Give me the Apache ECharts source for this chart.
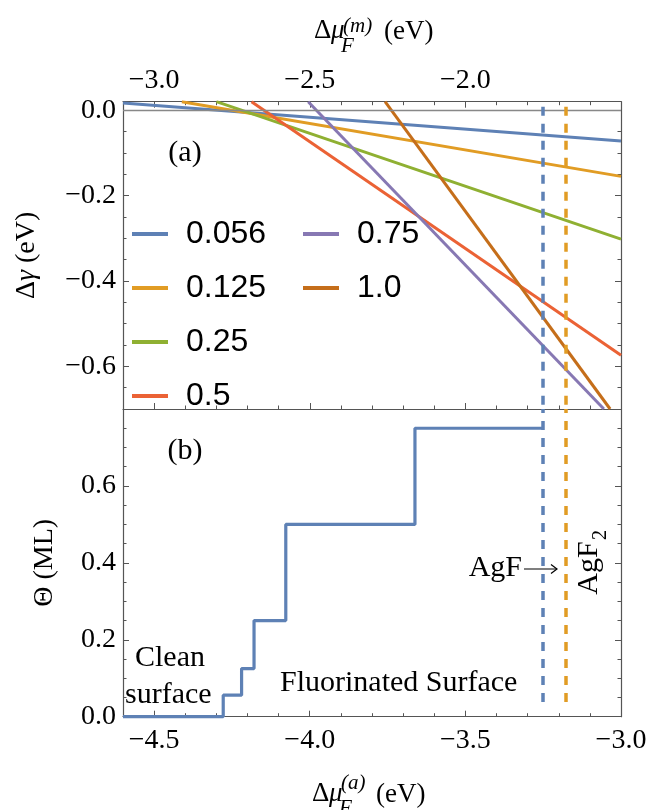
<!DOCTYPE html>
<html><head><meta charset="utf-8">
<script src="https://cdn.jsdelivr.net/npm/echarts@6/dist/echarts.min.js"></script>
<style>html,body{margin:0;padding:0;background:#fff}#c{width:666px;height:810px}</style>
</head><body><div id="c"></div>
<script>
// ---------- data ----------
const coverages = ['0.056', '0.125', '0.25', '0.5', '0.75', '1.0'];
const lineColors = ['#5E81B5', '#E19C24', '#8FB032', '#EB6235', '#8778B3', '#C56E1A'];
// panel (a): each straight line read where it enters / leaves the frame (x = Δμ_F^(m), y = Δγ)
const muM_056 = [-3.100, -1.500]; const dGamma_056 = [0.017, -0.072];
const muM_125 = [-2.911, -1.500]; const dGamma_125 = [0.020, -0.155];
const muM_25  = [-2.800, -1.500]; const dGamma_25  = [0.020, -0.302];
const muM_5   = [-2.687, -1.500]; const dGamma_5   = [0.020, -0.574];
const muM_75  = [-2.505, -1.555]; const dGamma_75  = [0.020, -0.700];
const muM_10  = [-2.258, -1.535]; const dGamma_10  = [0.020, -0.700];
// panel (b): coverage step function (x = Δμ_F^(a), y = Θ)
const stepMuA   = [-4.600, -4.278, -4.219, -4.179, -4.077, -3.662, -3.250];
const stepTheta = [0.000, 0.056, 0.125, 0.250, 0.500, 0.750, 0.750];
// vertical reference lines (AgF, AgF2)
const agfMuM = -1.752, agf2MuM = -1.677;
const agfMuA = -3.252, agf2MuA = -3.177;
// ticks
const xTopLabels = [-3.0, -2.5, -2.0];
const xTopMinor = [-3.1, -2.9, -2.8, -2.7, -2.6, -2.4, -2.3, -2.2, -2.1, -1.9, -1.8, -1.7, -1.6];
const xBotLabels = [-4.5, -4.0, -3.5, -3.0];
const xBotMinor = [-4.4, -4.3, -4.2, -4.1, -3.9, -3.8, -3.7, -3.6, -3.4, -3.3, -3.2, -3.1];
const yTopLabels = [0.0, -0.2, -0.4, -0.6];
const yTopMinor = [-0.05, -0.1, -0.15, -0.25, -0.3, -0.35, -0.45, -0.5, -0.55, -0.65];
const yBotLabels = [0.0, 0.2, 0.4, 0.6];
const yBotMajor = [0.2, 0.4, 0.6];
const yBotMinor = [0.05, 0.1, 0.15, 0.25, 0.3, 0.35, 0.45, 0.5, 0.55, 0.65, 0.7, 0.75];

// ---------- style ----------
const frame = '#555';
const serif = '"Liberation Serif", serif';
const fmt = v => Number(v).toFixed(1).replace('-', '\u2212');

function mkAxis(gridIndex, position, min, max, tickVals, tickLen, labelVals, showLine, margin, extra) {
  return Object.assign({
    type: 'value', gridIndex, position, min, max,
    axisLine: { show: showLine, onZero: false, lineStyle: { color: frame, width: 1.2 } },
    axisTick: { show: true, inside: true, length: tickLen, customValues: tickVals, lineStyle: { color: frame, width: 1 } },
    axisLabel: labelVals ? { show: true, customValues: labelVals, formatter: fmt, margin: margin,
      fontFamily: serif, fontSize: 28, color: '#000' } : { show: false },
    splitLine: { show: false }, minorTick: { show: false }, minorSplitLine: { show: false }
  }, extra || {});
}

const xAxes = [
  mkAxis(0, 'top', -3.1, -1.5, xTopLabels, 6, xTopLabels, true, 7),
  mkAxis(0, 'top', -3.1, -1.5, xTopMinor, 3.5, null, false),
  mkAxis(0, 'bottom', -3.1, -1.5, xTopLabels, 6, null, true),
  mkAxis(0, 'bottom', -3.1, -1.5, xTopMinor, 3.5, null, false),
  mkAxis(1, 'bottom', -4.6, -3.0, xBotLabels, 6, xBotLabels, true, 10),
  mkAxis(1, 'bottom', -4.6, -3.0, xBotMinor, 3.5, null, false)
];
const nameRich = {
  n: { fontFamily: serif, fontSize: 28, color: '#000' },
  i: { fontFamily: serif, fontSize: 28, fontStyle: 'italic', color: '#000' }
};
const yAxes = [
  mkAxis(0, 'left', -0.7, 0.02, yTopLabels, 6, yTopLabels, true, 7, {
    name: '{n|Δ}{i|γ}{n| (eV)}', nameLocation: 'middle', nameGap: 82, nameRotate: 90,
    nameTextStyle: { fontFamily: serif, fontSize: 28, rich: nameRich } }),
  mkAxis(0, 'left', -0.7, 0.02, yTopMinor, 3.5, null, false),
  mkAxis(0, 'right', -0.7, 0.02, yTopLabels, 6, null, true),
  mkAxis(0, 'right', -0.7, 0.02, yTopMinor, 3.5, null, false),
  mkAxis(1, 'left', 0, 0.8, yBotMajor, 6, yBotLabels, true, 7, {
    name: '{n|Θ (ML)}', nameLocation: 'middle', nameGap: 64, nameRotate: 90,
    nameTextStyle: { fontFamily: serif, fontSize: 28, rich: nameRich } }),
  mkAxis(1, 'left', 0, 0.8, yBotMinor, 3.5, null, false),
  mkAxis(1, 'right', 0, 0.8, yBotMajor, 6, null, true),
  mkAxis(1, 'right', 0, 0.8, yBotMinor, 3.5, null, false)
];

const pairs = (xs, ys) => xs.map((x, i) => [x, ys[i]]);
const lineData = [
  pairs(muM_056, dGamma_056), pairs(muM_125, dGamma_125), pairs(muM_25, dGamma_25),
  pairs(muM_5, dGamma_5), pairs(muM_75, dGamma_75), pairs(muM_10, dGamma_10)
];

const series = coverages.map((c, k) => ({
  type: 'line', name: c, xAxisIndex: 0, yAxisIndex: 0, data: lineData[k],
  symbol: 'none', clip: true, silent: true, z: 3,
  lineStyle: { width: 3, color: lineColors[k] }, itemStyle: { color: lineColors[k] }
}));
// zero line in panel (a)
series[0].markLine = {
  silent: true, symbol: 'none', label: { show: false }, animation: false,
  lineStyle: { color: '#888', width: 1.3, type: 'solid' }, data: [{ yAxis: 0 }]
};
// dashed AgF / AgF2 lines in panel (a)
series[5].markLine = {
  silent: true, symbol: 'none', label: { show: false }, animation: false,
  data: [
    [{ coord: [agfMuM, 0.008], lineStyle: { color: '#5E81B5', width: 3.5, type: [9, 8] } }, { coord: [agfMuM, -0.7] }],
    [{ coord: [agf2MuM, 0.008], lineStyle: { color: '#E19C24', width: 3.5, type: [9, 8] } }, { coord: [agf2MuM, -0.7] }]
  ]
};
series.push({
  type: 'line', name: 'theta', step: 'end', xAxisIndex: 4, yAxisIndex: 4,
  data: pairs(stepMuA, stepTheta), symbol: 'none', clip: false, silent: true, z: 3,
  lineStyle: { width: 3.2, color: '#5E81B5' },
  markLine: {
    silent: true, symbol: 'none', label: { show: false }, animation: false,
    data: [
      [{ coord: [agfMuA, 0.8], lineStyle: { color: '#5E81B5', width: 3.5, type: [9, 8], dashOffset: 5 } }, { coord: [agfMuA, 0.022] }],
      [{ coord: [agf2MuA, 0.8], lineStyle: { color: '#E19C24', width: 3.5, type: [9, 8], dashOffset: 5 } }, { coord: [agf2MuA, 0.022] }]
    ]
  }
});

const legendBase = {
  orient: 'vertical', itemWidth: 36, itemHeight: 4, itemGap: 20, icon: 'rect', selectedMode: false,
  textStyle: { fontFamily: 'Liberation Sans', fontSize: 32, lineHeight: 34, color: '#000', padding: [0, 0, 0, 13] }
};

function txt(x, y, text, size, opts) {
  return { type: 'text', x, y, silent: true, z: 100,
    style: Object.assign({ text, font: size + 'px ' + serif, fill: '#000', align: 'left', verticalAlign: 'middle' }, opts || {}) };
}
const graphics = [
  // top axis title Δμ_F^(m) (eV)
  txt(314, 31, 'Δ', 27),
  txt(331, 31, 'μ', 27, { font: 'italic 27px ' + serif }),
  txt(341, 46, 'F', 21, { font: 'italic 21px ' + serif }),
  txt(343, 26, '(m)', 21, { font: 'italic 21px ' + serif }),
  txt(384, 32, '(eV)', 27),
  // bottom axis title Δμ_F^(a) (eV)
  txt(312, 794, 'Δ', 27),
  txt(329, 794, 'μ', 27, { font: 'italic 27px ' + serif }),
  txt(339, 808, 'F', 21, { font: 'italic 21px ' + serif }),
  txt(341, 783, '(a)', 21, { font: 'italic 21px ' + serif }),
  txt(376, 795, '(eV)', 27),
  // panel labels and annotations
  txt(185, 153, '(a)', 30, { align: 'center' }),
  txt(185, 451, '(b)', 30, { align: 'center' }),
  txt(135, 658, 'Clean', 30),
  txt(125, 695, 'surface', 30),
  txt(280, 683, 'Fluorinated Surface', 30),
  txt(522, 568, 'AgF', 30, { align: 'right' }),
  { type: 'line', silent: true, z: 100, shape: { x1: 524, y1: 569, x2: 557, y2: 569 }, style: { stroke: '#000', lineWidth: 1.2 } },
  { type: 'polyline', silent: true, z: 100, shape: { points: [[551, 564.5], [557, 569], [551, 573.5]] }, style: { stroke: '#000', lineWidth: 1.2, fill: null } },
  { type: 'text', x: 589, y: 568, rotation: Math.PI / 2, silent: true, z: 100,
    style: { text: 'AgF', font: '30px ' + serif, fill: '#000', align: 'center', verticalAlign: 'middle' } },
  { type: 'text', x: 601, y: 535, rotation: Math.PI / 2, silent: true, z: 100,
    style: { text: '2', font: '20px ' + serif, fill: '#000', align: 'center', verticalAlign: 'middle' } }
];

const chart = echarts.init(document.getElementById('c'), null, { renderer: 'canvas' });
chart.setOption({
  animation: false, backgroundColor: '#fff',
  grid: [
    { left: 123, top: 101.7, width: 498, height: 307.3, outerBoundsMode: 'none', containLabel: false },
    { left: 123, top: 409, width: 498, height: 307.7, outerBoundsMode: 'none', containLabel: false }
  ],
  xAxis: xAxes, yAxis: yAxes,
  legend: [
    Object.assign({}, legendBase, { data: coverages.slice(0, 4), left: 127, top: 212 }),
    Object.assign({}, legendBase, { data: coverages.slice(4), left: 298, top: 212 })
  ],
  series, graphic: graphics
});
</script></body></html>
